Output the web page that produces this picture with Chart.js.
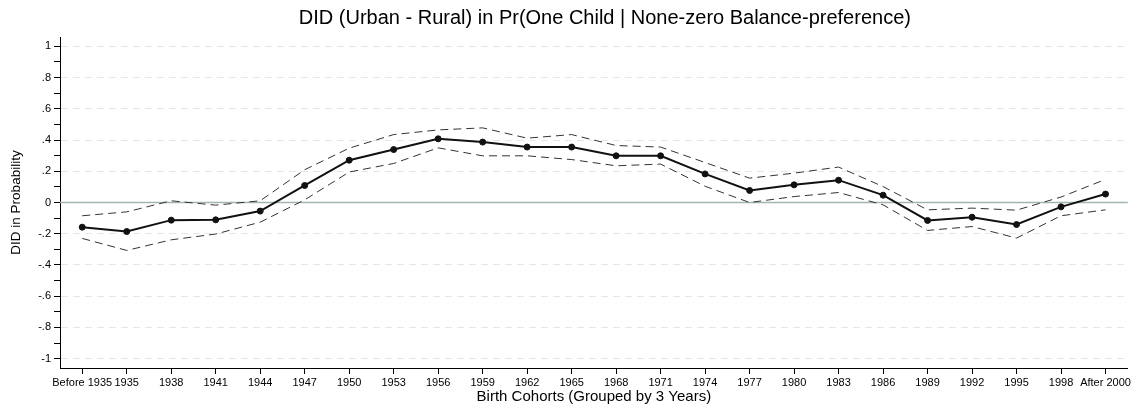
<!DOCTYPE html>
<html>
<head>
<meta charset="utf-8">
<script src="https://cdn.jsdelivr.net/npm/chart.js@4.4.0/dist/chart.umd.min.js"></script>
<style>
  html, body { margin:0; padding:0; background:#fff; }
  #wrap { width:1133px; height:406px; }
</style>
</head>
<body>
<div id="wrap"><canvas id="didChart" width="1133" height="406"></canvas></div>
<script>
const categories = [
  'Before 1935', '1935', '1938', '1941', '1944', '1947', '1950', '1953',
  '1956', '1959', '1962', '1965', '1968', '1971', '1974', '1977',
  '1980', '1983', '1986', '1989', '1992', '1995', '1998', 'After 2000'
]

const did = [
  -0.158, -0.186, -0.113, -0.111, -0.055, 0.109, 0.271, 0.339,
  0.408, 0.387, 0.355, 0.355, 0.299, 0.299, 0.183, 0.077,
  0.113, 0.143, 0.047, -0.115, -0.094, -0.141, -0.028, 0.054
]

const upper = [
  -0.085, -0.060, 0.011, -0.017, 0.011, 0.210, 0.348, 0.435,
  0.465, 0.478, 0.412, 0.435, 0.365, 0.355, 0.256, 0.156,
  0.188, 0.227, 0.102, -0.047, -0.036, -0.049, 0.035, 0.148
]

const lower = [
  -0.230, -0.307, -0.239, -0.202, -0.126, 0.017, 0.195, 0.250,
  0.350, 0.299, 0.299, 0.275, 0.235, 0.246, 0.104, 0.000,
  0.038, 0.064, -0.015, -0.179, -0.154, -0.228, -0.085, -0.047
]

const yTickValues = [
  -1, -0.9, -0.8, -0.7, -0.6, -0.5, -0.4, -0.3, -0.2, -0.1, 0,
  0.1, 0.2, 0.3, 0.4, 0.5, 0.6, 0.7, 0.8, 0.9, 1
]

const yTickLabels = [
  '-1', '', '-.8', '', '-.6', '', '-.4', '', '-.2', '', '0',
  '', '.2', '', '.4', '', '.6', '', '.8', '', '1'
]

const titleText = 'DID (Urban - Rural) in Pr(One Child | None-zero Balance-preference)'

const font = 'Liberation Sans, Arial, sans-serif'

// horizontal line at zero, under the lines
const zeroLine = {
  id:'zeroLine',
  beforeDatasetsDraw(chart){
    const {ctx, chartArea, scales} = chart
    const y = scales.y.getPixelForValue(0)
    ctx.save()
    ctx.strokeStyle = '#a3b6ae'
    ctx.lineWidth = 1.5
    ctx.beginPath()
    ctx.moveTo(chartArea.left, y)
    ctx.lineTo(chartArea.right, y)
    ctx.stroke()
    ctx.restore()
  }
}

// title, sitting a bit right of the plot centre like the original
const topTitle = {
  id:'topTitle',
  afterDraw(chart){
    const {ctx, chartArea} = chart
    ctx.save()
    ctx.fillStyle = '#000'
    ctx.font = '20px ' + font
    ctx.textAlign = 'center'
    ctx.textBaseline = 'middle'
    ctx.fillText(titleText, (chartArea.left + chartArea.right) / 2 + 11, 18)
    ctx.restore()
  }
}

const ciStyle = {
  borderColor:'#333',
  borderWidth:1,
  borderDash:[8, 5],
  pointRadius:0,
  fill:false,
  tension:0
}

new Chart(document.getElementById('didChart'), {

  type:'line',

  data:{
    labels:categories,
    datasets:[
      Object.assign({ label:'Upper', data:upper }, ciStyle),
      Object.assign({ label:'Lower', data:lower }, ciStyle),
      {
        label:'DID',
        data:did,
        borderColor:'#111',
        borderWidth:2,
        pointRadius:3,
        pointBackgroundColor:'#111',
        pointBorderColor:'#111',
        pointBorderWidth:1,
        tension:0
      }
    ]
  },

  options:{
    responsive:false,
    animation:false,
    layout:{ padding:{ left:0, right:3, top:37, bottom:0 } },
    plugins:{
      legend:{ display:false },
      tooltip:{ enabled:false },
      title:{ display:false }
    },
    scales:{
      x:{
        offset:true,
        grid:{
          drawOnChartArea:false,
          drawTicks:true,
          tickLength:6,
          tickColor:'#000',
          tickWidth:1
        },
        border:{ display:true, color:'#000', width:1 },
        ticks:{
          autoSkip:false,
          maxRotation:0,
          minRotation:0,
          padding:2,
          color:'#000',
          font:{ family:font, size:11 }
        },
        title:{
          display:true,
          text:'Birth Cohorts (Grouped by 3 Years)',
          color:'#000',
          font:{ family:font, size:15 },
          padding:{ top:0, bottom:0 }
        },
        afterFit(scale){ scale.height = 38 }
      },
      y:{
        min:-1.06,
        max:1.06,
        afterBuildTicks(scale){
          scale.ticks = yTickValues.map(v => ({ value:v }))
        },
        grid:{
          color(c){
            const i = yTickValues.indexOf(c.tick && c.tick.value)
            if (i < 0 || i % 2 === 1 || c.tick.value === 0) return 'rgba(0,0,0,0)'
            return '#e6e6e6'
          },
          lineWidth:1,
          drawTicks:true,
          tickLength:6,
          tickColor:'#000',
          tickWidth:1,
          tickBorderDash:[]
        },
        border:{ display:true, color:'#000', width:1, dash:[7, 5] },
        ticks:{
          padding:3,
          color:'#000',
          font:{ family:font, size:11 },
          callback(value){
            const i = yTickValues.findIndex(v => Math.abs(v - value) < 1e-9)
            return i < 0 ? '' : yTickLabels[i]
          }
        },
        title:{
          display:true,
          text:'DID in Probability',
          color:'#000',
          font:{ family:font, size:13.5 },
          padding:{ top:8, bottom:0 }
        },
        afterFit(scale){ scale.width = 60 }
      }
    }
  },

  plugins:[zeroLine, topTitle]

})
</script>
</body>
</html>
